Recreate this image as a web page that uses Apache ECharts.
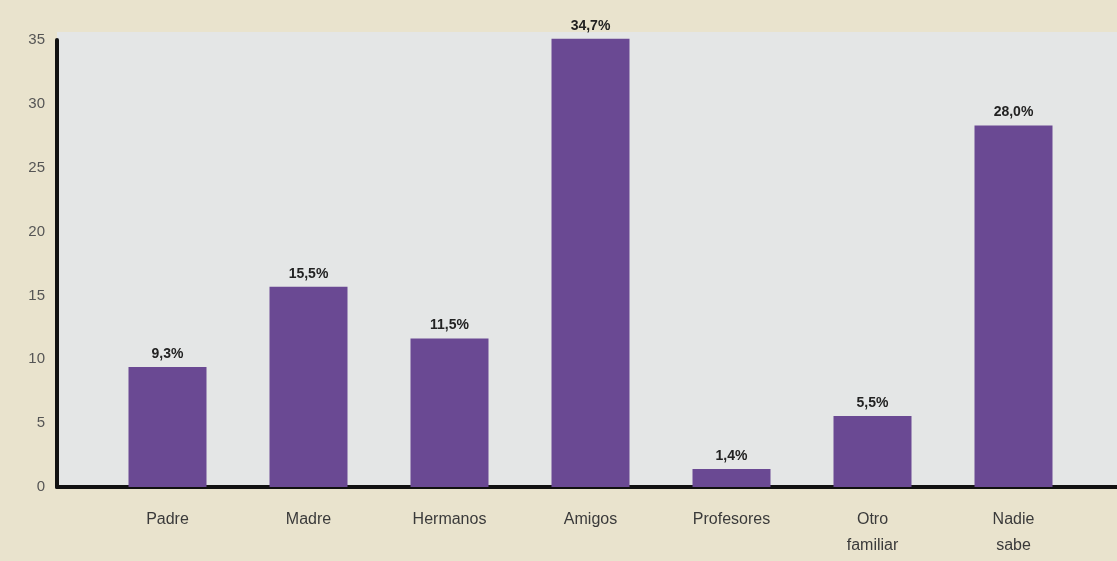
<!DOCTYPE html>
<html>
<head>
<meta charset="utf-8">
<script src="https://cdn.jsdelivr.net/npm/echarts@6/dist/echarts.min.js"></script>
<style>html,body{margin:0;padding:0;background:#e9e3cd;}#c{width:1117px;height:561px;}</style>
</head>
<body>
<div id="c"></div>
<script>
const categories = ['Padre', 'Madre', 'Hermanos', 'Amigos', 'Profesores', 'Otro\nfamiliar', 'Nadie\nsabe'];
const values = [9.3, 15.5, 11.5, 34.7, 1.4, 5.5, 28.0];
const yTicks = [0, 5, 10, 15, 20, 25, 30, 35];

const chart = echarts.init(document.getElementById('c'));
const font = 'Liberation Sans';
chart.setOption({
  backgroundColor: '#e9e3cd',
  animation: false,
  grid: [
    { left: 57, right: 0, top: 32, bottom: 74, show: true, backgroundColor: '#e4e6e6', borderWidth: 0 },
    { left: 57, right: 0, top: 40, bottom: 74 },
    { left: 97, right: 33, top: 35, bottom: 74 }
  ],
  xAxis: [
    { gridIndex: 0, type: 'category', data: categories, show: false },
    { gridIndex: 1, type: 'category', data: categories, boundaryGap: true,
      axisLine: { lineStyle: { color: '#111', width: 4 } }, axisTick: { show: false }, axisLabel: { show: false } },
    { gridIndex: 2, type: 'category', data: categories,
      axisLine: { show: false }, axisTick: { show: false },
      axisLabel: { interval: 0, margin: 20, color: '#3a3a3a', fontFamily: font, fontSize: 16, lineHeight: 26 } }
  ],
  yAxis: [
    { gridIndex: 0, type: 'value', min: 0, max: 35, show: false, splitLine: { show: false } },
    { gridIndex: 1, type: 'value', min: yTicks[0], max: yTicks[yTicks.length - 1], interval: 5,
      axisLine: { show: true, lineStyle: { color: '#111', width: 4 } }, axisTick: { show: false },
      splitLine: { show: false },
      axisLabel: { color: '#555', fontFamily: font, fontSize: 15, margin: 12 } },
    { gridIndex: 2, type: 'value', min: 0, max: 35, show: false, splitLine: { show: false } }
  ],
  series: [{
    type: 'bar', xAxisIndex: 2, yAxisIndex: 2, data: values, barWidth: 78,
    itemStyle: { color: '#6a4993' },
    label: { show: true, position: 'top', distance: 6, color: '#222', fontFamily: font, fontSize: 14, fontWeight: 'bold',
      formatter: p => p.value.toFixed(1).replace('.', ',') + '%' }
  }]
});
</script>
</body>
</html>
